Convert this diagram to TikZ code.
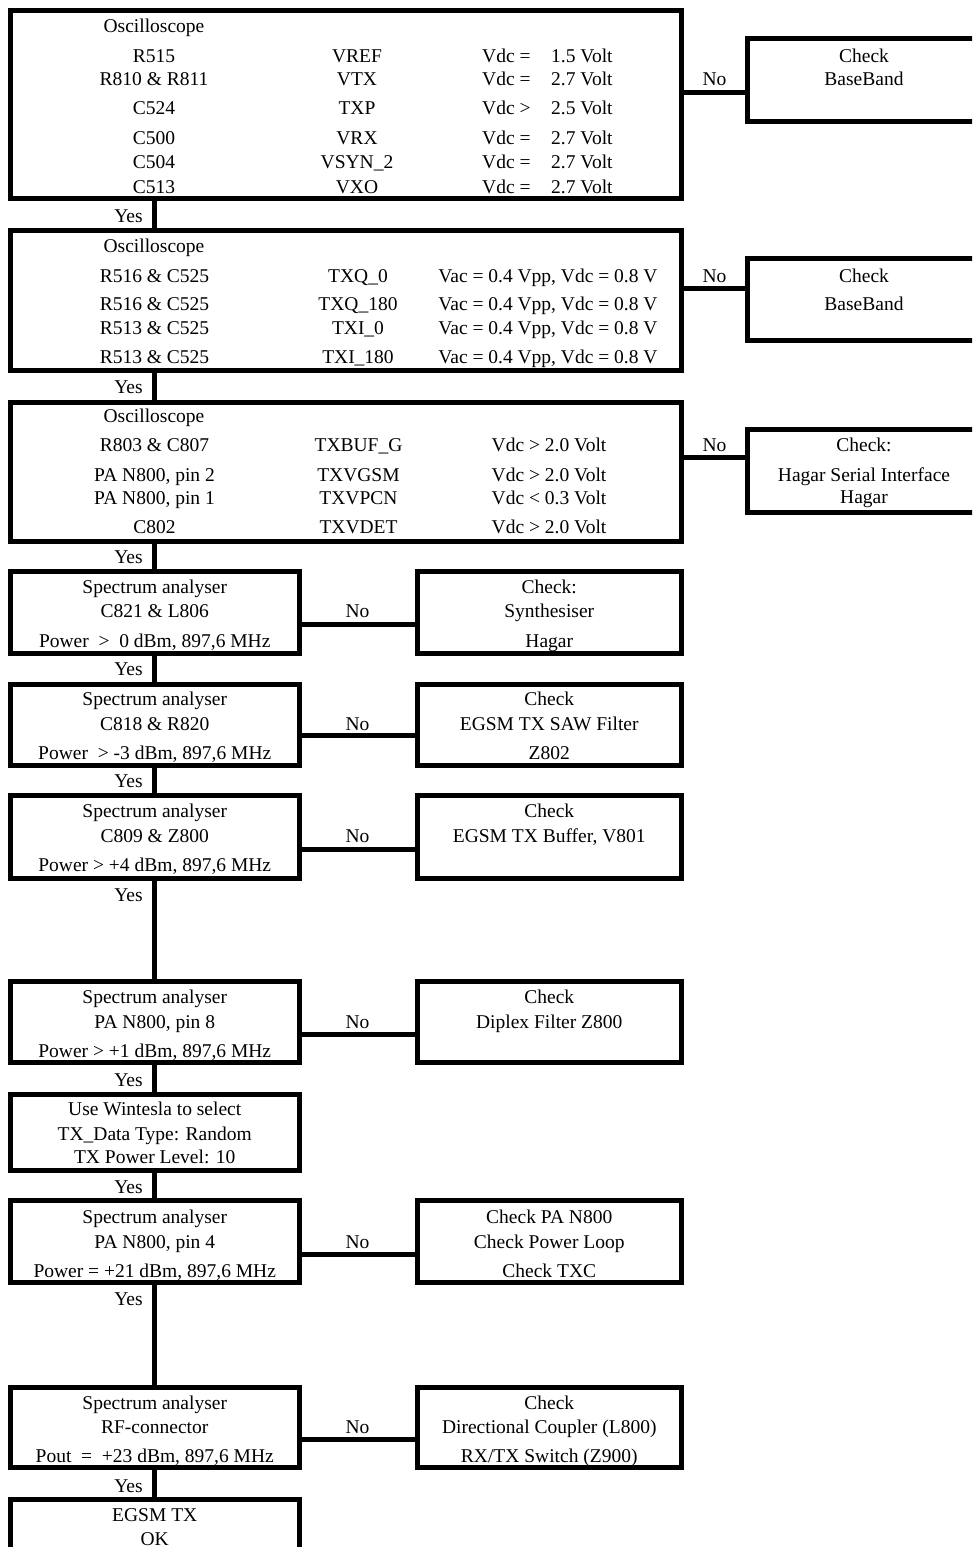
\documentclass[tikz,border=0pt]{standalone}
\usepackage{fontspec}
\setmainfont{Liberation Serif}
\begin{document}
\begin{tikzpicture}[x=1pt,y=-1pt,
  box/.style={draw=black,line width=5pt,rectangle,inner sep=0pt},
  conn/.style={draw=black,line width=5pt},
  txt/.style={inner sep=0pt,anchor=base,font=\fontsize{19.5pt}{22pt}\selectfont},
  txtw/.style={txt,anchor=base west}]
\useasboundingbox (0,0) rectangle (972,1547);
\clip (0,0) rectangle (972,1547);
% ---------- big boxes ----------
\node[box,minimum width=670.5pt,minimum height=188pt] (b1) at (345.75,104) {};
\node[box,minimum width=670.5pt,minimum height=140pt] (b2) at (345.75,300.5) {};
\node[box,minimum width=670.5pt,minimum height=139.5pt] (b3) at (345.75,471.75) {};
% right check boxes
\node[box,minimum width=234pt,minimum height=83pt] (c1) at (864,80) {};
\node[box,minimum width=234pt,minimum height=82pt] (c2) at (864,299.5) {};
\node[box,minimum width=234pt,minimum height=83pt] (c3) at (864,471) {};
% left boxes
\node[box,minimum width=288.5pt,minimum height=82pt] (bA) at (154.75,612) {};
\node[box,minimum width=288.5pt,minimum height=81pt] (bB) at (154.75,724.5) {};
\node[box,minimum width=288.5pt,minimum height=82.5pt] (bC) at (154.75,836.75) {};
\node[box,minimum width=288.5pt,minimum height=81pt] (bD) at (154.75,1022) {};
\node[box,minimum width=288.5pt,minimum height=76pt] (bE) at (154.75,1132.5) {};
\node[box,minimum width=288.5pt,minimum height=81.5pt] (bF) at (154.75,1241.25) {};
\node[box,minimum width=288.5pt,minimum height=80pt] (bG) at (154.75,1427.5) {};
\node[box,minimum width=288.5pt,minimum height=80.5pt] (bH) at (154.75,1539.75) {};
% mid check boxes
\node[box,minimum width=263.5pt,minimum height=82pt] (cA) at (549.25,612) {};
\node[box,minimum width=263.5pt,minimum height=81pt] (cB) at (549.25,724.5) {};
\node[box,minimum width=263.5pt,minimum height=82.5pt] (cC) at (549.25,836.75) {};
\node[box,minimum width=263.5pt,minimum height=81pt] (cD) at (549.25,1022) {};
\node[box,minimum width=263.5pt,minimum height=81.5pt] (cF) at (549.25,1241.25) {};
\node[box,minimum width=263.5pt,minimum height=80pt] (cG) at (549.25,1427.5) {};
% ---------- connector levels ----------
\coordinate (n1) at (0,92);
\coordinate (n2) at (0,288.5);
\coordinate (n3) at (0,457.5);
\coordinate (nA) at (0,624);
\coordinate (nB) at (0,735.5);
\coordinate (nC) at (0,849);
\coordinate (nD) at (0,1034.5);
\coordinate (nF) at (0,1254.5);
\coordinate (nG) at (0,1439.5);
\coordinate (yx) at (154.5,0);
% ---------- No connectors ----------
\draw[conn] (b1.east |- n1) -- (c1.west |- n1);
\draw[conn] (b2.east |- n2) -- (c2.west |- n2);
\draw[conn] (b3.east |- n3) -- (c3.west |- n3);
\draw[conn] (bA.east |- nA) -- (cA.west |- nA);
\draw[conn] (bB.east |- nB) -- (cB.west |- nB);
\draw[conn] (bC.east |- nC) -- (cC.west |- nC);
\draw[conn] (bD.east |- nD) -- (cD.west |- nD);
\draw[conn] (bF.east |- nF) -- (cF.west |- nF);
\draw[conn] (bG.east |- nG) -- (cG.west |- nG);
% ---------- Yes connectors ----------
\draw[conn] (b1.south -| yx) -- (b2.north -| yx);
\draw[conn] (b2.south -| yx) -- (b3.north -| yx);
\draw[conn] (b3.south -| yx) -- (bA.north -| yx);
\draw[conn] (bA.south -| yx) -- (bB.north -| yx);
\draw[conn] (bB.south -| yx) -- (bC.north -| yx);
\draw[conn] (bC.south -| yx) -- (bD.north -| yx);
\draw[conn] (bD.south -| yx) -- (bE.north -| yx);
\draw[conn] (bE.south -| yx) -- (bF.north -| yx);
\draw[conn] (bF.south -| yx) -- (bG.north -| yx);
\draw[conn] (bG.south -| yx) -- (bH.north -| yx);
% ---------- Yes / No labels ----------
\foreach \i/\y in {1/222,2/393,3/563,4/675,5/787,6/901,7/1086,8/1193,9/1305,10/1492}
  \node[txt] (yes\i) at (128.5,\y) {Yes};
\foreach \i/\y in {1/85,2/282,3/451}
  \node[txt] (noR\i) at (714.5,\y) {No};
\foreach \i/\y in {1/617,2/730,3/842,4/1028,5/1248,6/1433}
  \node[txt] (noM\i) at (357.5,\y) {No};
% ---------- box 1 ----------
\node[txt] (t11) at (154,32) {Oscilloscope};
\foreach \i/\y/\a/\b/\c/\d in {2/62/R515/VREF/{Vdc =}/{1.5 Volt},
  3/85/{R810 \& R811}/VTX/{Vdc =}/{2.7 Volt},
  4/114/C524/TXP/{Vdc >}/{2.5 Volt},
  5/144/C500/VRX/{Vdc =}/{2.7 Volt},
  6/168/C504/VSYN\_2/{Vdc =}/{2.7 Volt},
  7/193/C513/VXO/{Vdc =}/{2.7 Volt}}{
  \node[txt] (p\i) at (154,\y) {\a};
  \node[txt] (q\i) at (357,\y) {\b};
  \node[txtw] (r\i) at (482,\y) {\c};
  \node[txtw] (s\i) at (551,\y) {\d};
}
% ---------- box 2 ----------
\node[txt] (t21) at (154,252) {Oscilloscope};
\foreach \i/\y/\a/\b in {2/282/{R516 \& C525}/TXQ\_0,
  3/310/{R516 \& C525}/TXQ\_180,
  4/334/{R513 \& C525}/TXI\_0,
  5/363/{R513 \& C525}/TXI\_180}{
  \node[txt] (u\i) at (154.5,\y) {\a};
  \node[txt] (v\i) at (358,\y) {\b};
  \node[txt] (w\i) at (548,\y) {Vac = 0.4 Vpp, Vdc = 0.8 V};
}
% ---------- box 3 ----------
\node[txt] (t31) at (154,422) {Oscilloscope};
\foreach \i/\y/\a/\b/\c in {2/451/{R803 \& C807}/TXBUF\_G/{Vdc > 2.0 Volt},
  3/481/{PA N800, pin 2}/TXVGSM/{Vdc > 2.0 Volt},
  4/504/{PA N800, pin 1}/TXVPCN/{Vdc < 0.3 Volt},
  5/533/C802/TXVDET/{Vdc > 2.0 Volt}}{
  \node[txt] (x\i) at (154.5,\y) {\a};
  \node[txt] (y\i) at (358.5,\y) {\b};
  \node[txt] (z\i) at (549,\y) {\c};
}
% ---------- right checks ----------
\node[txt] (c1a) at (864,62) {Check};
\node[txt] (c1b) at (864,85) {BaseBand};
\node[txt] (c2a) at (864,282) {Check};
\node[txt] (c2b) at (864,310) {BaseBand};
\node[txt] (c3a) at (864,451) {Check:};
\node[txt] (c3b) at (864,481) {Hagar Serial Interface};
\node[txt] (c3c) at (864,503) {Hagar};
% ---------- left boxes ----------
\node[txt] (bA1) at (154.75,593) {Spectrum analyser};
\node[txt] (bA2) at (154.75,617) {C821 \& L806};
\node[txt] (bA3) at (154.75,647) {Power\ \ >\ \ 0 dBm, 897,6 MHz};
\node[txt] (bB1) at (154.75,705) {Spectrum analyser};
\node[txt] (bB2) at (154.75,730) {C818 \& R820};
\node[txt] (bB3) at (154.75,759) {Power\ \ > -3 dBm, 897,6 MHz};
\node[txt] (bC1) at (154.75,817) {Spectrum analyser};
\node[txt] (bC2) at (154.75,842) {C809 \& Z800};
\node[txt] (bC3) at (154.75,871) {Power > +4 dBm, 897,6 MHz};
\node[txt] (bD1) at (154.75,1003) {Spectrum analyser};
\node[txt] (bD2) at (154.75,1028) {PA N800, pin 8};
\node[txt] (bD3) at (154.75,1057) {Power > +1 dBm, 897,6 MHz};
\node[txt] (bE1) at (154.75,1115) {Use Wintesla to select};
\node[txt] (bE2) at (154.75,1140) {TX\_Data Type: Random};
\node[txt] (bE3) at (154.75,1163) {TX Power Level: 10};
\node[txt] (bF1) at (154.75,1223) {Spectrum analyser};
\node[txt] (bF2) at (154.75,1248) {PA N800, pin 4};
\node[txt] (bF3) at (154.75,1277) {Power = +21 dBm, 897,6 MHz};
\node[txt] (bG1) at (154.75,1409) {Spectrum analyser};
\node[txt] (bG2) at (154.75,1433) {RF-connector};
\node[txt] (bG3) at (154.75,1462) {Pout\ \ =\ \ +23 dBm, 897,6 MHz};
\node[txt] (bH1) at (154.75,1521) {EGSM TX};
\node[txt] (bH2) at (154.75,1545) {OK};
% ---------- mid checks ----------
\node[txt] (cA1) at (549.25,593) {Check:};
\node[txt] (cA2) at (549.25,617) {Synthesiser};
\node[txt] (cA3) at (549.25,647) {Hagar};
\node[txt] (cB1) at (549.25,705) {Check};
\node[txt] (cB2) at (549.25,730) {EGSM TX SAW Filter};
\node[txt] (cB3) at (549.25,759) {Z802};
\node[txt] (cC1) at (549.25,817) {Check};
\node[txt] (cC2) at (549.25,842) {EGSM TX Buffer, V801};
\node[txt] (cD1) at (549.25,1003) {Check};
\node[txt] (cD2) at (549.25,1028) {Diplex Filter Z800};
\node[txt] (cF1) at (549.25,1223) {Check PA N800};
\node[txt] (cF2) at (549.25,1248) {Check Power Loop};
\node[txt] (cF3) at (549.25,1277) {Check TXC};
\node[txt] (cG1) at (549.25,1409) {Check};
\node[txt] (cG2) at (549.25,1433) {Directional Coupler (L800)};
\node[txt] (cG3) at (549.25,1462) {RX/TX Switch (Z900)};
\end{tikzpicture}
\end{document}
